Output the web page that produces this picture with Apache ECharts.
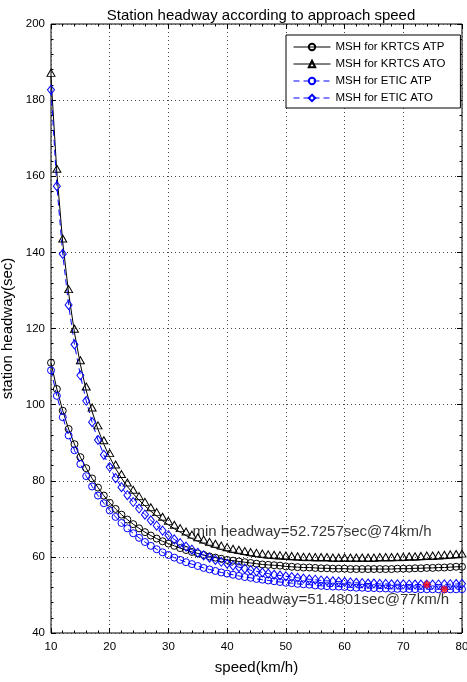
<!DOCTYPE html>
<html><head><meta charset="utf-8">
<script src="https://cdn.jsdelivr.net/npm/echarts@6/dist/echarts.min.js"></script>
<style>html,body{margin:0;padding:0;background:#fff}#c{width:467px;height:682px}</style>
</head><body><div id="c"></div>
<script>
const speeds = [10,11,12,13,14,15,16,17,18,19,20,21,22,23,24,25,26,27,28,29,30,31,32,33,34,35,36,37,38,39,40,41,42,43,44,45,46,47,48,49,50,51,52,53,54,55,56,57,58,59,60,61,62,63,64,65,66,67,68,69,70,71,72,73,74,75,76,77,78,79,80];
const krtcsATP = [111.0,104.1,98.4,93.6,89.6,86.2,83.3,80.6,78.2,76.1,74.2,72.6,71.1,69.8,68.6,67.5,66.5,65.6,64.8,64.1,63.5,62.9,62.3,61.8,61.3,60.9,60.5,60.1,59.8,59.5,59.2,59.0,58.8,58.6,58.4,58.2,58.0,57.9,57.8,57.7,57.5,57.4,57.3,57.2,57.2,57.1,57.0,57.0,56.9,56.9,56.9,56.8,56.8,56.8,56.8,56.8,56.8,56.8,56.8,56.9,56.9,56.9,57.0,57.0,57.1,57.1,57.2,57.2,57.3,57.4,57.4];
const krtcsATO = [186.1,160.9,142.6,129.3,118.9,110.6,103.7,98.2,93.5,89.6,86.2,83.2,80.7,78.5,76.6,74.9,73.4,72.0,70.7,69.5,68.4,67.4,66.5,65.6,64.8,64.1,63.5,62.9,62.4,61.9,61.5,61.1,60.8,60.5,60.2,60.0,59.8,59.6,59.5,59.4,59.3,59.2,59.1,59.0,59.0,58.9,58.9,58.9,58.8,58.8,58.8,58.8,58.8,58.8,58.8,58.8,58.9,58.9,58.9,59.0,59.0,59.1,59.1,59.2,59.3,59.3,59.4,59.5,59.6,59.7,59.8];
const eticATP = [109.0,102.3,96.7,91.9,88.0,84.4,81.2,78.5,76.1,74.1,72.2,70.5,68.9,67.5,66.2,65.0,63.9,62.9,62.0,61.2,60.5,59.8,59.2,58.6,58.1,57.6,57.1,56.7,56.3,55.9,55.6,55.3,55.0,54.7,54.5,54.2,54.0,53.8,53.6,53.4,53.2,53.1,52.9,52.8,52.7,52.5,52.4,52.3,52.2,52.2,52.1,52.0,51.9,51.9,51.8,51.8,51.7,51.7,51.6,51.6,51.6,51.55,51.53,51.51,51.5,51.49,51.485,51.4801,51.485,51.49,51.5];
const eticATO = [182.7,157.4,139.6,126.2,115.8,107.7,101.0,95.4,90.7,86.8,83.6,80.7,78.3,76.2,74.4,72.7,71.1,69.6,68.2,66.9,65.7,64.6,63.6,62.7,61.9,61.1,60.4,59.8,59.2,58.7,58.2,57.7,57.3,56.9,56.5,56.2,55.9,55.6,55.3,55.1,54.9,54.7,54.5,54.3,54.1,54.0,53.8,53.7,53.6,53.5,53.4,53.3,53.2,53.1,53.0,53.0,52.9,52.9,52.8,52.8,52.8,52.75,52.74,52.73,52.7257,52.73,52.75,52.78,52.82,52.87,52.93];
const seriesNames = ['MSH for KRTCS ATP','MSH for KRTCS ATO','MSH for ETIC ATP','MSH for ETIC ATO'];
const xTicks = [10,20,30,40,50,60,70,80];
const yTicks = [40,60,80,100,120,140,160,180,200];
const minPoints = [[74,52.7257],[77,51.4801]];
const minTexts = ['min headway=52.7257sec@74km/h','min headway=51.4801sec@77km/h'];
const annotationAnchors = [[34,66.7],[37,48.6]];

const FONT = 'Liberation Sans, Arial, sans-serif';
const pairs = arr => speeds.map((s,i)=>[s,arr[i]]);
const chart = echarts.init(document.getElementById('c'), null, {renderer:'canvas'});
const xMin = xTicks[0], xMax = xTicks[xTicks.length-1], yMin = yTicks[0], yMax = yTicks[yTicks.length-1];
const axCommon = {
  axisLine:{show:false},
  axisTick:{show:true, inside:true, length:5, lineStyle:{color:'#000', width:1}},
  minorTick:{show:true, splitNumber:5, length:2.5, lineStyle:{color:'#000', width:1}},
};
const star = 'path://M0,-5L0,5M-5,0L5,0M-3.5,-3.5L3.5,3.5M-3.5,3.5L3.5,-3.5';
chart.setOption({
  animation:false,
  backgroundColor:'#fff',
  textStyle:{fontFamily:FONT},
  title:{text:'Station headway according to approach speed', left:256, top:3, textAlign:'center',
    textStyle:{fontFamily:FONT, fontSize:15, fontWeight:'normal', color:'#000'}},
  grid:{left:51, right:5, top:24, bottom:49, containLabel:false, outerBoundsMode:'none', show:true, borderColor:'#000', borderWidth:1, backgroundColor:'#fff'},
  legend:{
    data:seriesNames, orient:'vertical', left:286, top:35,
    padding:[5,15,3,7], itemGap:3, itemWidth:37, itemHeight:8,
    backgroundColor:'#fff', borderColor:'#000', borderWidth:1,
    lineStyle:{width:1},
    textStyle:{fontFamily:FONT, fontSize:11.5, color:'#000', lineHeight:14}
  },
  xAxis:[
    Object.assign({}, axCommon, {type:'value', min:xMin, max:xMax, interval:10, position:'bottom',
      name:'speed(km/h)', nameLocation:'middle', nameGap:27,
      nameTextStyle:{fontFamily:FONT, fontSize:15, color:'#000'},
      axisLabel:{fontFamily:FONT, fontSize:11.5, color:'#000', margin:8},
      splitLine:{show:true, lineStyle:{color:'#444', width:1, type:[1,3]}}}),
    Object.assign({}, axCommon, {type:'value', min:xMin, max:xMax, interval:10, position:'top',
      axisLabel:{show:false}, splitLine:{show:false}})
  ],
  yAxis:[
    Object.assign({}, axCommon, {type:'value', min:yMin, max:yMax, interval:20, position:'left',
      name:'station headway(sec)', nameLocation:'middle', nameGap:28,
      nameTextStyle:{fontFamily:FONT, fontSize:15, color:'#000'},
      axisLabel:{fontFamily:FONT, fontSize:11.5, color:'#000', margin:6},
      splitLine:{show:true, lineStyle:{color:'#444', width:1, type:[1,3]}}}),
    Object.assign({}, axCommon, {type:'value', min:yMin, max:yMax, interval:20, position:'right',
      axisLabel:{show:false}, splitLine:{show:false}})
  ],
  series:[
    {name:seriesNames[0], type:'line', data:pairs(krtcsATP), symbol:'circle', symbolSize:7,
      lineStyle:{color:'#000', width:1}, itemStyle:{color:'rgba(0,0,0,0)', borderColor:'#000', borderWidth:1}, z:3},
    {name:seriesNames[1], type:'line', data:pairs(krtcsATO), symbol:'triangle', symbolSize:[8,7], symbolOffset:[0,-4],
      lineStyle:{color:'#000', width:1}, itemStyle:{color:'rgba(0,0,0,0)', borderColor:'#000', borderWidth:1}, z:3},
    {name:seriesNames[2], type:'line', data:pairs(eticATP), symbol:'circle', symbolSize:7,
      lineStyle:{color:'#0000ff', width:1, type:[6,4]}, itemStyle:{color:'rgba(0,0,0,0)', borderColor:'#0000ff', borderWidth:1}, z:3},
    {name:seriesNames[3], type:'line', data:pairs(eticATO), symbol:'diamond', symbolSize:[7,9],
      lineStyle:{color:'#0000ff', width:1, type:[6,4]}, itemStyle:{color:'rgba(0,0,0,0)', borderColor:'#0000ff', borderWidth:1}, z:3},
    {name:'min', type:'scatter', data:minPoints, symbol:star, symbolSize:8, symbolKeepAspect:true,
      itemStyle:{color:'rgba(0,0,0,0)', borderColor:'#ff0000', borderWidth:1.5}, z:4},
    {name:'annot', type:'scatter', data:annotationAnchors, symbolSize:1, itemStyle:{color:'rgba(0,0,0,0)'},
      label:{show:true, position:'right', distance:0, fontFamily:FONT, fontSize:15, color:'#000',
        formatter:p=>minTexts[p.dataIndex]}, z:5}
  ]
});
</script></body></html>
